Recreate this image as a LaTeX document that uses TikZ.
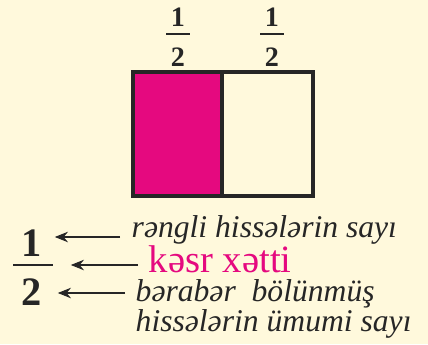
\documentclass[tikz,border=0pt]{standalone}
\usepackage{fontspec}
\setmainfont{Liberation Serif}
\usetikzlibrary{arrows.meta}
\definecolor{cream}{HTML}{FFF9DC}
\definecolor{rose}{HTML}{E5097F}
\definecolor{ink}{HTML}{262626}

\begin{document}
\begin{tikzpicture}[x=0.02cm,y=-0.02cm,line width=0.8pt,>={Stealth[length=7.5pt,width=6pt]}]
\tikzset{digit/.style={font=\bfseries\fontsize{16}{16}\selectfont,text=ink,inner sep=0pt},
  bigdigit/.style={font=\bfseries\fontsize{23}{23}\selectfont,text=ink,inner sep=0pt},
  note/.style={font=\itshape\fontsize{18}{20}\selectfont,text=ink,anchor=west,inner sep=0pt},
  half/.style={draw=ink,line width=2pt},
  pointer/.style={->,draw=ink,line width=0.6pt}}
\fill[cream] (0,0) rectangle (428,344);
\useasboundingbox (0,0) rectangle (428,344);
% ---------- whole split in two halves ----------
\draw[half,fill=rose] (133,72) rectangle (222,196);
\draw[half] (222,72) rectangle (313,196);
% ---------- 1/2 over each half ----------
\node[digit] (a1) at (178,17) {1};
\node[digit] (a2) at (178,57) {2};
\draw[ink,line width=1pt] (166,34) -- (190,34);
\node[digit] (b1) at (272,17) {1};
\node[digit] (b2) at (272,57) {2};
\draw[ink,line width=1pt] (260,34) -- (284,34);
% ---------- named parts of the fraction ----------
\node[bigdigit] (n1) at (32,243) {1};
\node[bigdigit] (n2) at (32,292) {2};
\draw[ink,line width=1.2pt] (13,265) -- (53,265);
\node[note] (shaded) at (131,230) {rəngli hissələrin sayı};
\node[note,font=\fontsize{22}{24}\selectfont,text=rose] (bar) at (148,259) {kəsr xətti};
\node[note] (total) at (135,294) {bərabər \ bölünmüş};
\node[note] (totalb) at (135,324) {hissələrin ümumi sayı};
\coordinate (p1) at (120,237);
\coordinate (p2) at (138,265);
\coordinate (p3) at (125,293);
\draw[pointer] (p1) -- ([xshift=0.24cm]p1 -| n1.east);
\draw[pointer] (p2) -- ([xshift=0.56cm]p2 -| n1.east);
\draw[pointer] (p3) -- ([xshift=0.3cm]p3 -| n2.east);
\end{tikzpicture}
\end{document}
